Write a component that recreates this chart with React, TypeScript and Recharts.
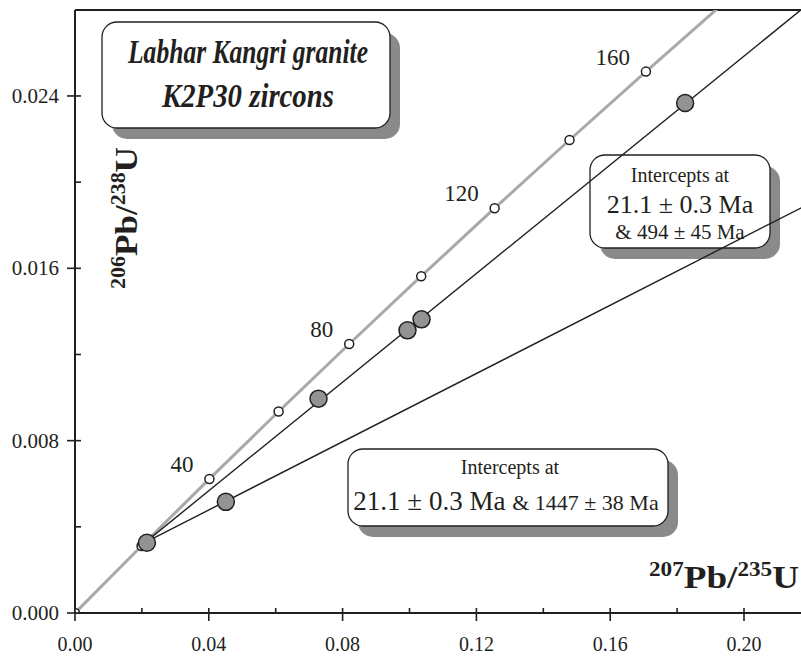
import React from "react"
import {
  ComposedChart,
  Line,
  Scatter,
  XAxis,
  YAxis,
  ReferenceLine,
  LabelList,
  Customized,
} from "recharts"

// concordia curve, marked every 20 Ma
const concordiaAges = [0, 20, 40, 60, 80, 100, 120, 140, 160, 180]
const concordiaX = [0, 0.01989, 0.04018, 0.06087, 0.08197, 0.1035, 0.12545, 0.14784, 0.17068, 0.19396]
const concordiaY = [0, 0.003107, 0.006224, 0.009351, 0.012487, 0.015633, 0.018789, 0.021955, 0.025131, 0.028316]
const labelledAges = [40, 80, 120, 160]

// zircon analyses
const zirconX = [0.0215, 0.0451, 0.0728, 0.0994, 0.1036, 0.1824]
const zirconY = [0.00326, 0.00516, 0.00995, 0.01312, 0.01363, 0.02367]

// discordia chords: 21.1 Ma lower intercept, 494 Ma and 1447 Ma upper intercepts
const chord494X = [0.020998, 0.6266]
const chord494Y = [0.003278, 0.07964]
const chord1447X = [0.020998, 3.158]
const chord1447Y = [0.003278, 0.2517]

const xTicks = [0, 0.02, 0.04, 0.06, 0.08, 0.1, 0.12, 0.14, 0.16, 0.18, 0.2]
const yTicks = [0, 0.004, 0.008, 0.012, 0.016, 0.02, 0.024]

const X_MAX = 0.21704
const Y_MAX = 0.02799

const INK = "#231f20"
const CURVE = "#a9a9a9"
const SHADOW = "#8a8a8a"
const FONT = "'Liberation Serif', 'Times New Roman', serif"

const concordia = concordiaAges.map((age, i) => ({ age, x: concordiaX[i], y: concordiaY[i] }))
const zircons = zirconX.map((x, i) => ({ x, y: zirconY[i] }))
const chord494 = chord494X.map((x, i) => ({ x, y: chord494Y[i] }))
const chord1447 = chord1447X.map((x, i) => ({ x, y: chord1447Y[i] }))

const XTick = (props: any) => {
  const { x, y, payload } = props
  const v = payload.value
  const major = Math.round(v / 0.02) % 2 === 0
  return (
    <g>
      <line x1={x} x2={x} y1={y - 5} y2={major ? y + 8 : y} stroke={INK} strokeWidth={1.6} />
      {major && (
        <text x={x} y={y + 38} textAnchor="middle" fontFamily={FONT} fontSize={20} fill={INK}>
          {v.toFixed(2)}
        </text>
      )}
    </g>
  )
}

const YTick = (props: any) => {
  const { x, y, payload } = props
  const v = payload.value
  const major = Math.round(v / 0.004) % 2 === 0
  return (
    <g>
      <line x1={major ? x - 8 : x} x2={x + 6} y1={y} y2={y} stroke={INK} strokeWidth={1.6} />
      {major && (
        <text x={x - 16} y={y + 7} textAnchor="end" fontFamily={FONT} fontSize={21} fill={INK}>
          {v.toFixed(3)}
        </text>
      )}
    </g>
  )
}

const ConcordiaDot = (props: any) => {
  const { cx, cy, index } = props
  return <circle key={index} cx={cx} cy={cy} r={4.5} fill="#fff" stroke={INK} strokeWidth={1.5} />
}

const ZirconDot = (props: any) => {
  const { cx, cy } = props
  return <circle cx={cx} cy={cy} r={8.5} fill="#939393" stroke={INK} strokeWidth={1.5} />
}

const AgeLabel = (props: any) => {
  const { x, y, value } = props
  if (!labelledAges.includes(value)) return null
  return (
    <text x={x - 16} y={y - 7} textAnchor="end" fontFamily={FONT} fontSize={23} fill={INK}>
      {value}
    </text>
  )
}

const Box = ({ x, y, w, h }: { x: number; y: number; w: number; h: number }) => (
  <g>
    <rect x={x + 10} y={y + 11} width={w} height={h} rx={15} fill={SHADOW} />
    <rect x={x} y={y} width={w} height={h} rx={15} fill="#fff" stroke={INK} strokeWidth={1.3} />
  </g>
)

const Annotations = () => (
  <g fontFamily={FONT} fill={INK}>
    <Box x={102} y={22} w={288} h={106} />
    <text
      x={248}
      y={63}
      textAnchor="middle"
      fontSize={33}
      fontWeight="bold"
      fontStyle="italic"
      textLength={240}
      lengthAdjust="spacingAndGlyphs"
    >
      Labhar Kangri granite
    </text>
    <text
      x={248}
      y={107}
      textAnchor="middle"
      fontSize={33}
      fontWeight="bold"
      fontStyle="italic"
      textLength={172}
      lengthAdjust="spacingAndGlyphs"
    >
      K2P30 zircons
    </text>

    <Box x={590} y={155} w={180} h={93} />
    <text x={680} y={182} textAnchor="middle" fontSize={20}>Intercepts at</text>
    <text x={680} y={213} textAnchor="middle" fontSize={26}>21.1 ± 0.3 Ma</text>
    <text x={680} y={239} textAnchor="middle" fontSize={21}>&amp; 494 ± 45 Ma</text>

    <Box x={348} y={449} w={320} h={77} />
    <text x={510} y={474} textAnchor="middle" fontSize={20}>Intercepts at</text>
    <text x={506} y={510} textAnchor="middle">
      <tspan fontSize={27}>21.1 ± 0.3 Ma </tspan>
      <tspan fontSize={22}>&amp; 1447 ± 38 Ma</tspan>
    </text>

    <text x={799} y={588} textAnchor="end" fontWeight="bold" textLength={150} lengthAdjust="spacingAndGlyphs">
      <tspan fontSize={20} dy={-12}>207</tspan>
      <tspan fontSize={32} dy={12}>Pb/</tspan>
      <tspan fontSize={20} dy={-12}>235</tspan>
      <tspan fontSize={32} dy={12}>U</tspan>
    </text>

    <text
      x={137}
      y={218}
      transform="rotate(-90 137 218)"
      textAnchor="middle"
      fontWeight="bold"
      textLength={142}
      lengthAdjust="spacingAndGlyphs"
    >
      <tspan fontSize={20} dy={-12}>206</tspan>
      <tspan fontSize={32} dy={12}>Pb/</tspan>
      <tspan fontSize={20} dy={-12}>238</tspan>
      <tspan fontSize={32} dy={12}>U</tspan>
    </text>
  </g>
)

export default function App() {
  return (
    <div style={{ position: "fixed", left: 0, top: 0, background: "#fff" }}>
      <ComposedChart width={801} height={656} margin={{ top: 10, right: 0, left: 0, bottom: 0 }}>
        <XAxis
          type="number"
          dataKey="x"
          domain={[0, X_MAX]}
          allowDataOverflow
          ticks={xTicks}
          interval={0}
          tickSize={0}
          tickMargin={0}
          tickLine={false}
          tick={<XTick />}
          height={43}
          axisLine={{ stroke: INK, strokeWidth: 2 }}
        />
        <YAxis
          type="number"
          dataKey="y"
          domain={[0, Y_MAX]}
          allowDataOverflow
          ticks={yTicks}
          interval={0}
          tickSize={0}
          tickMargin={0}
          tickLine={false}
          tick={<YTick />}
          width={75}
          axisLine={{ stroke: INK, strokeWidth: 2 }}
        />
        <ReferenceLine y={Y_MAX} stroke={INK} strokeWidth={2} />
        <Customized component={<Annotations />} />
        <Line
          data={concordia}
          dataKey="y"
          type="linear"
          stroke={CURVE}
          strokeWidth={3}
          dot={<ConcordiaDot />}
          activeDot={false}
          isAnimationActive={false}
        >
          <LabelList dataKey="age" content={<AgeLabel />} />
        </Line>
        <Line
          data={chord494}
          dataKey="y"
          type="linear"
          stroke={INK}
          strokeWidth={1.4}
          dot={false}
          activeDot={false}
          isAnimationActive={false}
        />
        <Line
          data={chord1447}
          dataKey="y"
          type="linear"
          stroke={INK}
          strokeWidth={1.4}
          dot={false}
          activeDot={false}
          isAnimationActive={false}
        />
        <Scatter data={zircons} shape={<ZirconDot />} isAnimationActive={false} />
      </ComposedChart>
    </div>
  )
}
